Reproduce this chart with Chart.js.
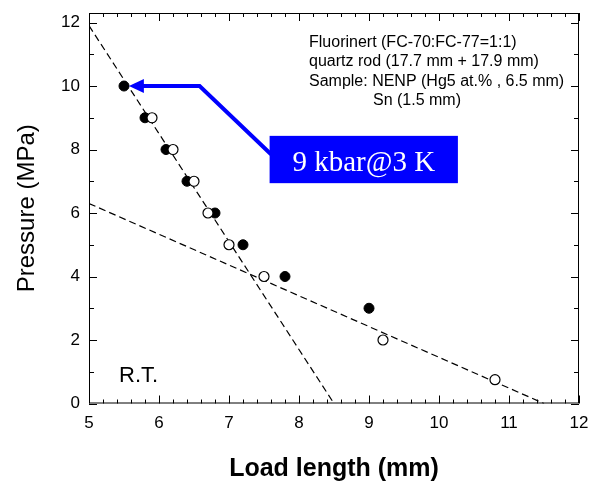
<!DOCTYPE html>
<html>
<head>
<meta charset="utf-8">
<script src="https://cdn.jsdelivr.net/npm/chart.js@4.4.1/dist/chart.umd.min.js"></script>
<style>
  body { margin: 0; background: #fff; }
</style>
</head>
<body>
<canvas id="myChart" width="589" height="481"></canvas>
<script>
// measured points: filled = first run, open = second run
var filledX = [5.5, 5.8, 6.1, 6.4, 6.8, 7.2, 7.8, 9.0];
var filledY = [10, 9, 8, 7, 6, 5, 4, 3];
var openX = [5.9, 6.2, 6.5, 6.7, 7.0, 7.5, 9.2, 10.8];
var openY = [9, 8, 7, 6, 5, 4, 2, 0.75];
// guide lines (end points)
var fit1X = [5, 8.5];
var fit1Y = [11.9, 0];
var fit2X = [5, 11.5];
var fit2Y = [6.3, 0];
var xTicks = [5, 6, 7, 8, 9, 10, 11, 12];
var yTicks = [0, 2, 4, 6, 8, 10, 12];
var noteLines = ['Fluorinert (FC-70:FC-77=1:1)', 'quartz rod (17.7 mm + 17.9 mm)', 'Sample: NENP (Hg5 at.% , 6.5 mm)', 'Sn (1.5 mm)'];
var boxText = '9 kbar@3 K';

function pts(xs, ys) {
    return xs.map(function(x, i) { return {x: x, y: ys[i]}; });
}

var sans = 'Liberation Sans, Arial, sans-serif';

var frame = {
    id: 'frame',
    afterDraw: function(chart) {
        var ctx = chart.ctx, a = chart.chartArea;
        var xs = chart.scales.x, ys = chart.scales.y;
        ctx.save();
        ctx.strokeStyle = '#000';
        ctx.lineWidth = 1;
        ctx.strokeRect(a.left + 0.5, a.top + 0.5, a.right - a.left - 1, a.bottom - a.top - 1);
        ctx.beginPath();
        // x ticks, inward, top and bottom
        for (var v = 5; v <= 12.001; v += 0.2) {
            var px = Math.round(xs.getPixelForValue(v)) + 0.5;
            var major = Math.abs(v - Math.round(v)) < 0.01;
            var len = major ? 8 : 4;
            ctx.moveTo(px, a.bottom); ctx.lineTo(px, a.bottom - len);
            ctx.moveTo(px, a.top); ctx.lineTo(px, a.top + len);
        }
        for (var w = 0; w <= 12; w += 1) {
            var py = Math.round(ys.getPixelForValue(w)) + 0.5;
            var l2 = (w % 2 === 0) ? 8 : 5;
            ctx.moveTo(a.left, py); ctx.lineTo(a.left + l2, py);
            ctx.moveTo(a.right, py); ctx.lineTo(a.right - l2, py);
        }
        ctx.stroke();

        // notes
        ctx.fillStyle = '#000';
        ctx.font = '16px ' + sans;
        ctx.textBaseline = 'alphabetic';
        ctx.textAlign = 'left';
        ctx.fillText(noteLines[0], 309, 46.5);
        ctx.fillText(noteLines[1], 309, 66);
        ctx.fillText(noteLines[2], 309, 85.5);
        ctx.fillText(noteLines[3], 373, 105);
        ctx.font = '22px ' + sans;
        ctx.fillText('R.T.', 119, 381.5);

        // blue arrow to the first point
        var tipX = xs.getPixelForValue(5.57), tipY = ys.getPixelForValue(10);
        var elbX = xs.getPixelForValue(6.58);
        var endX = xs.getPixelForValue(7.6), endY = ys.getPixelForValue(7.85);
        ctx.strokeStyle = '#0000ff';
        ctx.fillStyle = '#0000ff';
        ctx.lineWidth = 4;
        ctx.lineJoin = 'miter';
        ctx.beginPath();
        ctx.moveTo(tipX + 12, tipY);
        ctx.lineTo(elbX, tipY);
        ctx.lineTo(endX, endY);
        ctx.stroke();
        ctx.beginPath();
        ctx.moveTo(tipX, tipY);
        ctx.lineTo(tipX + 15, tipY - 7);
        ctx.lineTo(tipX + 15, tipY + 7);
        ctx.closePath();
        ctx.fill();

        // label box
        var bx0 = xs.getPixelForValue(7.58), bx1 = xs.getPixelForValue(10.27);
        var by0 = ys.getPixelForValue(8.43), by1 = ys.getPixelForValue(6.94);
        ctx.fillRect(bx0, by0, bx1 - bx0, by1 - by0);
        ctx.fillStyle = '#fff';
        ctx.font = '29px Liberation Serif, Times New Roman, serif';
        ctx.textAlign = 'center';
        ctx.fillText(boxText, (bx0 + bx1) / 2, by0 + 35);
        ctx.restore();
    }
};

new Chart(document.getElementById('myChart'), {
    type: 'scatter',
    data: {
        datasets: [{
            data: pts(openX, openY),
            pointRadius: 5,
            pointBackgroundColor: '#fff',
            pointBorderColor: '#000',
            pointBorderWidth: 1.2,
            order: 1
        }, {
            data: pts(filledX, filledY),
            pointRadius: 5,
            pointBackgroundColor: '#000',
            pointBorderColor: '#000',
            pointBorderWidth: 1,
            order: 2
        }, {
            type: 'line',
            data: pts(fit1X, fit1Y),
            borderColor: '#000',
            borderWidth: 1.2,
            borderDash: [7, 4],
            pointRadius: 0,
            fill: false,
            order: 3
        }, {
            type: 'line',
            data: pts(fit2X, fit2Y),
            borderColor: '#000',
            borderWidth: 1.2,
            borderDash: [7, 4],
            pointRadius: 0,
            fill: false,
            order: 4
        }]
    },
    options: {
        responsive: false,
        animation: false,
        layout: { padding: { top: 13, right: 10, left: 0, bottom: 0 } },
        plugins: {
            legend: { display: false },
            tooltip: { enabled: false }
        },
        scales: {
            x: {
                type: 'linear',
                min: 5,
                max: 12,
                afterFit: function(s) {
                    s.height = 77.5;
                    s.paddingLeft = 0;
                    s.paddingRight = 0;
                },
                afterBuildTicks: function(s) { s.ticks = xTicks.map(function(v) { return {value: v}; }); },
                grid: { display: false, drawTicks: false },
                border: { display: false },
                ticks: { color: '#000', padding: 10, font: { family: sans, size: 17 } },
                title: {
                    display: true,
                    text: 'Load length (mm)',
                    color: '#000',
                    font: { family: sans, size: 25, weight: 'bold' },
                    padding: { top: 0, bottom: -3 }
                }
            },
            y: {
                type: 'linear',
                min: 0,
                max: 12.3,
                afterFit: function(s) {
                    s.width = 89;
                    s.paddingTop = 0;
                    s.paddingBottom = 0;
                },
                afterBuildTicks: function(s) { s.ticks = yTicks.map(function(v) { return {value: v}; }); },
                grid: { display: false, drawTicks: false },
                border: { display: false },
                ticks: { color: '#000', padding: 9, font: { family: sans, size: 17 } },
                title: {
                    display: true,
                    text: 'Pressure (MPa)',
                    color: '#000',
                    font: { family: sans, size: 24 },
                    padding: { top: 13, bottom: 0 }
                }
            }
        }
    },
    plugins: [frame]
});
</script>
</body>
</html>
